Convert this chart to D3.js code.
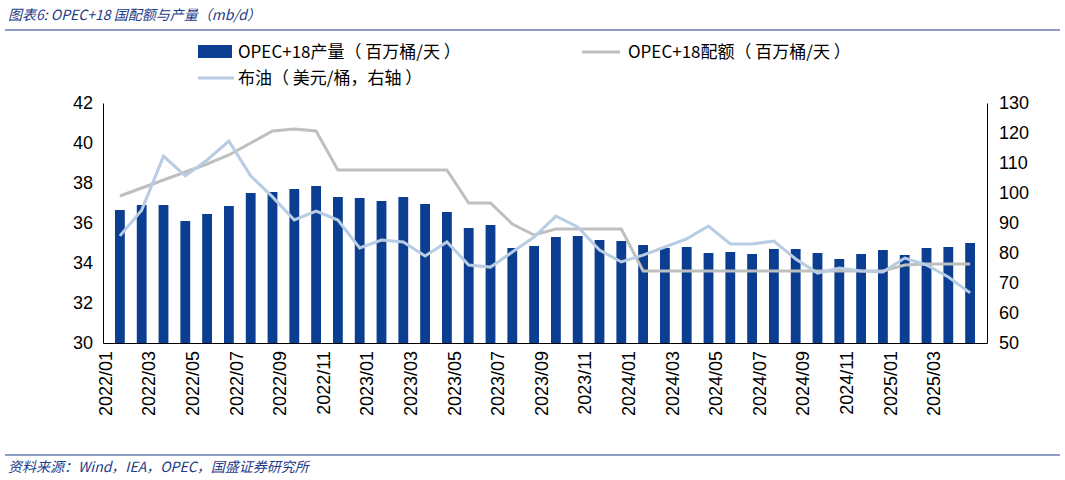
<!DOCTYPE html><html><head><meta charset="utf-8"><script src="https://cdn.jsdelivr.net/npm/d3@7"></script>
<style>body{margin:0;background:#fff;font-family:"Noto Sans CJK SC",Arial,sans-serif}</style></head><body><svg id="c" width="1065" height="480"></svg><script>
const categories=[];for(let y=2022;y<=2025;y++)for(let m=1;m<=12;m++){if(y===2025&&m>4)break;categories.push(y+"/"+String(m).padStart(2,"0"));}
const production=[36.65,36.9,36.9,36.1,36.45,36.85,37.5,37.55,37.7,37.85,37.3,37.25,37.1,37.3,36.95,36.55,35.75,35.9,34.75,34.85,35.3,35.35,35.15,35.1,34.9,34.75,34.8,34.5,34.55,34.45,34.7,34.7,34.5,34.2,34.45,34.65,34.4,34.75,34.8,35.0];
const quota=[37.35,37.75,38.15,38.55,38.95,39.4,40.0,40.6,40.7,40.6,38.65,38.65,38.65,38.65,38.65,38.65,37.0,37.0,35.95,35.4,35.7,35.7,35.7,35.7,33.6,33.6,33.6,33.6,33.6,33.6,33.6,33.6,33.6,33.6,33.6,33.6,33.9,33.95,33.95,33.95];
const brent=[85.7,94.3,112.3,105.7,111,117.3,105.7,98.7,91,94,91,81.7,84.3,83.7,79,83.7,76,75.3,80.3,85.3,92.3,88.7,81,77,79.3,82,84.7,89,83,83,84,78,73.3,75,74,73.7,78.3,76,72,66.7];
const leftTicks=[30,32,34,36,38,40,42],rightTicks=[50,60,70,80,90,100,110,120,130];
const svg=d3.select("#c");
svg.append("text").attr("x",8).attr("y",20).attr("font-size",14).attr("font-style","italic").attr("fill","#1f3c88").text("图表6:  OPEC+18 国配额与产量（mb/d）");
svg.append("line").attr("x1",5).attr("x2",1060).attr("y1",30).attr("y2",30).attr("stroke","#1f3c88").attr("stroke-width",1.2);
svg.append("line").attr("x1",5).attr("x2",1060).attr("y1",455).attr("y2",455).attr("stroke","#1f3c88").attr("stroke-width",1.2);
svg.append("text").attr("x",8).attr("y",472).attr("font-size",14).attr("font-style","italic").attr("fill","#1f3c88").text("资料来源：Wind，IEA，OPEC，国盛证券研究所");
const L=103,R=987,T=103,B=343;
const x=d3.scaleBand().domain(categories).range([L,R]).padding(0.55);
const y=d3.scaleLinear().domain([30,42]).range([B,T]);
const y2=d3.scaleLinear().domain([50,130]).range([B,T]);
svg.append("g").selectAll("rect").data(production).join("rect").attr("x",(d,i)=>x(categories[i])).attr("width",x.bandwidth()).attr("y",d=>y(d)).attr("height",d=>B-y(d)).attr("fill","#0b3d91");
const cx=i=>x(categories[i])+x.bandwidth()/2;
svg.append("path").datum(quota).attr("fill","none").attr("stroke","#bfbfbf").attr("stroke-width",3).attr("d",d3.line().x((d,i)=>cx(i)).y(d=>y(d)));
svg.append("path").datum(brent).attr("fill","none").attr("stroke","#b8cce4").attr("stroke-width",3).attr("d",d3.line().x((d,i)=>cx(i)).y(d=>y2(d)));
const ga=svg.append("g").attr("transform",`translate(${L},0)`).call(d3.axisLeft(y).tickValues(leftTicks).tickSize(0).tickPadding(10));
const gr=svg.append("g").attr("transform",`translate(${R},0)`).call(d3.axisRight(y2).tickValues(rightTicks).tickSize(0).tickPadding(12));
const gx=svg.append("g").attr("transform",`translate(0,${B})`).call(d3.axisBottom(x).tickValues(categories.filter((c,i)=>i%2===0)).tickSize(0).tickPadding(8));
gx.selectAll("text").attr("transform","rotate(-90)").attr("text-anchor","end").attr("dx","-8").attr("dy","-0.45em").attr("x",0).attr("y",0);
[ga,gr,gx].forEach(g=>{g.selectAll("text").attr("font-size",18).attr("font-family","Arial, Liberation Sans, sans-serif").attr("fill","#000");});
ga.select(".domain").attr("stroke","#000");gr.select(".domain").attr("stroke","#000");gx.select(".domain").attr("stroke","#000");
const lg=svg.append("g").attr("font-size",17).attr("fill","#000");
lg.append("rect").attr("x",198).attr("y",45).attr("width",34).attr("height",13).attr("fill","#0b3d91");
lg.append("text").attr("x",238).attr("y",58).text("OPEC+18产量（ 百万桶/天 ）");
lg.append("line").attr("x1",582).attr("x2",620).attr("y1",52).attr("y2",52).attr("stroke","#bfbfbf").attr("stroke-width",3);
lg.append("text").attr("x",628).attr("y",58).text("OPEC+18配额（ 百万桶/天 ）");
lg.append("line").attr("x1",198).attr("x2",234).attr("y1",78).attr("y2",78).attr("stroke","#b8cce4").attr("stroke-width",3);
lg.append("text").attr("x",238).attr("y",84).text("布油（ 美元/桶，右轴 ）");
</script></body></html>
